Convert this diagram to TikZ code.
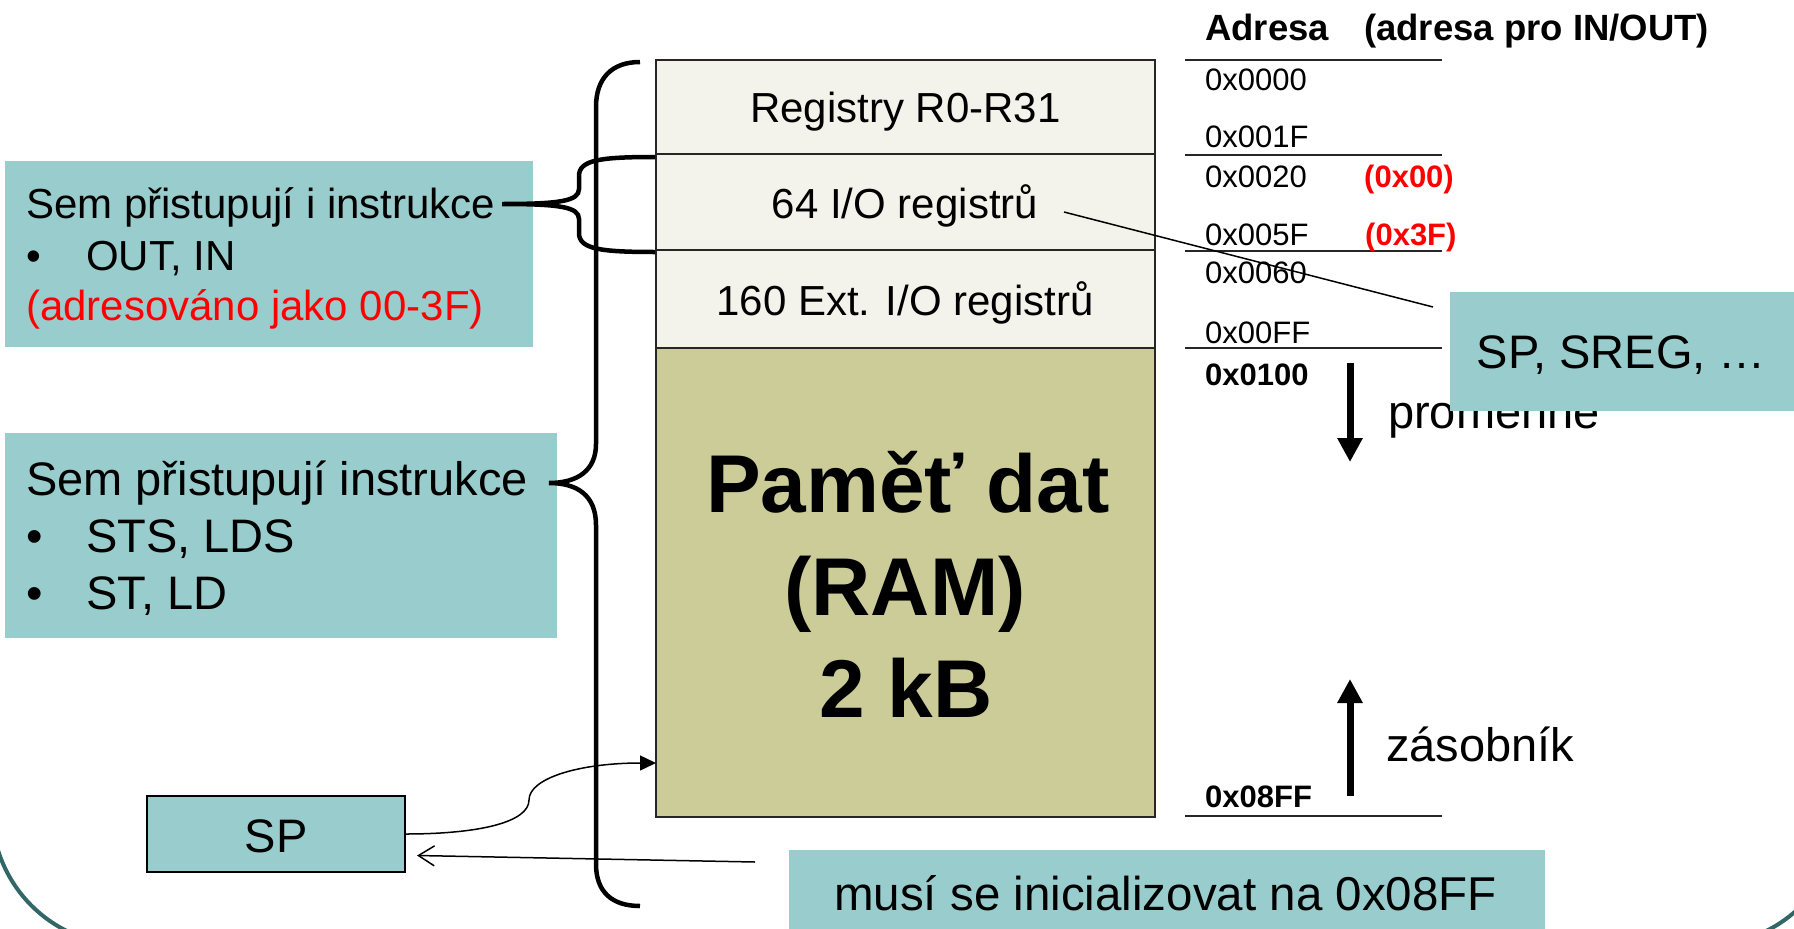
\documentclass[tikz,border=0pt]{standalone}
\usepackage{fontspec}
\setmainfont{Liberation Sans}
\usetikzlibrary{arrows.meta}
\definecolor{boxteal}{HTML}{99CCCC}
\definecolor{rowlight}{HTML}{F3F3EB}
\definecolor{rowram}{HTML}{CCCC99}
\definecolor{framec}{HTML}{336666}
\definecolor{edgec}{HTML}{262626}
\definecolor{redc}{HTML}{FF0000}
\newcommand\myfs[1]{\fontsize{#1pt}{#1pt}\selectfont}
\tikzset{
  tealbox/.style={fill=boxteal, anchor=north west, inner sep=0pt, outer sep=0pt},
  memrow/.style={draw=edgec, line width=2pt, anchor=north west, minimum width=499pt, inner sep=0pt, outer sep=0pt},
  memtxt/.style={anchor=base, inner sep=0pt, font=\myfs{42}},
  ramtxt/.style={anchor=base, inner sep=0pt, font=\myfs{82}\bfseries},
  addrline/.style={draw=edgec, line width=2pt},
  addrtxt/.style={anchor=base west, inner sep=0pt, font=\myfs{31}},
  addrbold/.style={anchor=base west, inner sep=0pt, font=\myfs{31}\bfseries},
  hdrtxt/.style={anchor=base west, inner sep=0pt, font=\myfs{36.5}\bfseries},
  txt/.style={anchor=base west, inner sep=0pt},
  bracepath/.style={draw=black, line width=4.5pt},
  bigarrow/.style={line width=7pt, -{Triangle[length=24pt,width=24pt]}},
  thinline/.style={line width=1.5pt},
}
\begin{document}
\begin{tikzpicture}[x=1pt,y=-1pt]
\useasboundingbox (0,0) rectangle (1794,929);
\begin{scope}
\clip (0,0) rectangle (1794,929);
% slide frame
\draw[framec, line width=4pt, rounded corners=134.7pt] (-8,-600) rectangle (1841,945);

% memory map
\node[memrow, fill=rowlight, minimum height=94pt] (reg) at (656,60) {};
\node[memrow, fill=rowlight, minimum height=96pt] (io) at (656,154) {};
\node[memrow, fill=rowlight, minimum height=98pt] (ext) at (656,250) {};
\node[memrow, fill=rowram, minimum height=469pt] (ram) at (656,348) {};
\node[memtxt] (tReg) at (905.5,122.7) {Registry R0-R31};
\node[memtxt] (tIo) at (905,218) {64 I/O registrů};
\node[memtxt] (tExt) at (905,315) {160 Ext. I/O registrů};
\node[ramtxt] (tRam1) at (908,512.7) {Paměť dat};
\node[ramtxt] (tRam2) at (905,615) {(RAM)};
\node[ramtxt] (tRam3) at (906,717) {2 kB};

% address column
\node[hdrtxt] (hAdr) at (1205,40) {Adresa};
\node[hdrtxt] (hIO) at (1364,40) {(adresa pro IN/OUT)};
\draw[addrline] (1185,60) -- (1442,60);
\draw[addrline] (1185,155) -- (1442,155);
\draw[addrline] (1185,251) -- (1442,251);
\draw[addrline] (1185,348) -- (1442,348);
\draw[addrline] (1185,816) -- (1442,816);
\node[addrtxt] (a0) at (1205,90) {0x0000};
\node[addrtxt] (a1) at (1205,147) {0x001F};
\node[addrtxt] (a2) at (1205,187) {0x0020};
\node[addrtxt] (a3) at (1205,245) {0x005F};
\node[addrtxt] (a4) at (1205,283) {0x0060};
\node[addrtxt] (a5) at (1205,343) {0x00FF};
\node[addrbold] (a6) at (1205,385) {0x0100};
\node[addrbold] (a7) at (1205,807) {0x08FF};
\node[addrbold, text=redc] (r0) at (1364,187) {(0x00)};
\node[addrbold, text=redc] (r1) at (1365,245) {(0x3F)};

% growth arrows
\coordinate (varTop) at (1350,363);
\coordinate (varEnd) at (1350,462);
\coordinate (stkBot) at (1350,796);
\coordinate (stkEnd) at (1350,679);
\draw[bigarrow] (varTop) -- (varEnd);
\draw[bigarrow] (stkBot) -- (stkEnd);
\node[txt, font=\myfs{47}] (tVar) at (1388,428) {proměnné};
\node[txt, font=\myfs{47}] (tStk) at (1386,761) {zásobník};

% pointer from I/O registers
\coordinate (ioPt) at (1064,212);
\coordinate (spregPt) at (1433,307);
\draw[thinline] (ioPt) -- (spregPt);
\node[tealbox, minimum width=400pt, minimum height=119pt] (spreg) at (1450,292) {};
\node[txt, font=\myfs{47}] (tSpreg) at (1476.5,368) {SP, SREG, …};

% left info boxes
\node[tealbox, minimum width=528.5pt, minimum height=186pt] (sem1) at (4.5,161) {};
\node[txt, font=\myfs{42}] (s1a) at (26,218) {Sem přistupují i instrukce};
\node[txt, font=\myfs{42}] (s1b) at (26,270) {\makebox[60pt][l]{•}OUT, IN};
\node[txt, font=\myfs{42}, text=redc] (s1c) at (26,320) {(adresováno jako 00-3F)};

\node[tealbox, minimum width=552.5pt, minimum height=205pt] (sem2) at (4.5,433) {};
\node[txt, font=\myfs{47}] (s2a) at (26,495.5) {Sem přistupují instrukce};
\node[txt, font=\myfs{47}] (s2b) at (26,552) {\makebox[60pt][l]{•}STS, LDS};
\node[txt, font=\myfs{47}] (s2c) at (26,609) {\makebox[60pt][l]{•}ST, LD};

% braces
\draw[bracepath] (640,62) .. controls (612,62) and (596,78) .. (596,107)
  -- (596,444) .. controls (596,470) and (578,483) .. (549,483)
  .. controls (578,483) and (596,496) .. (596,525)
  -- (596,864) .. controls (596,892) and (612,906) .. (640,906);
\draw[bracepath] (655,157) .. controls (600,157) and (579,160) .. (579,176)
  -- (579,189) .. controls (579,201) and (560,204) .. (502,204)
  .. controls (560,204) and (579,207) .. (579,219)
  -- (579,233) .. controls (579,249) and (600,252) .. (655,252);

% SP box and arrows
\node[tealbox, draw=black, line width=2pt, minimum width=258pt, minimum height=76pt] (sp) at (147,796) {};
\node[anchor=base, inner sep=0pt, font=\myfs{47}] (tSp) at (276,852) {SP};
\coordinate (ramIn) at (656,763);
\draw[thinline, -{Triangle[length=16pt,width=15pt]}] (sp.east)
  .. controls (480,834) and (529,822) .. (529,800)
  .. controls (529,778) and (580,763) .. (ramIn);
\node[tealbox, minimum width=756pt, minimum height=100pt] (init) at (789,850) {};
\node[txt, font=\myfs{47.5}] (tInit) at (834,910) {musí se inicializovat na 0x08FF};
\coordinate (initPt) at (755,862);
\coordinate (spIn) at (417,855.5);
\draw[thinline, -{Straight Barb[length=16pt,width=20pt]}] (initPt) -- (spIn);
\end{scope}
\end{tikzpicture}
\end{document}
